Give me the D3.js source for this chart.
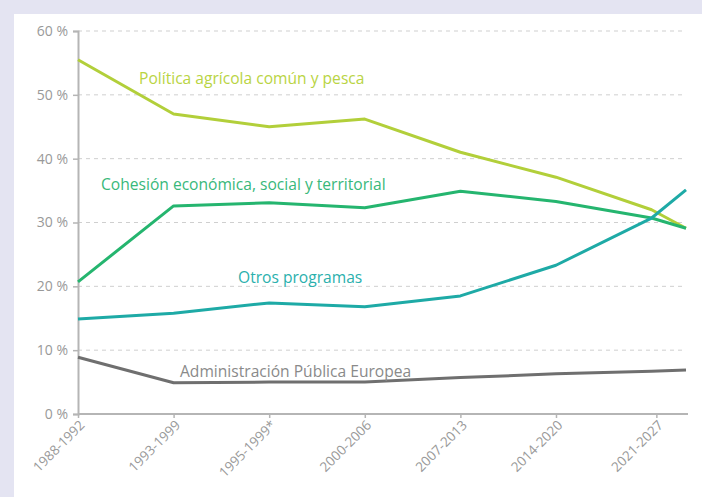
<!DOCTYPE html>
<html><head><meta charset="utf-8">
<script src="https://cdn.jsdelivr.net/npm/d3@7"></script>
<style>
html,body{margin:0;padding:0;background:#e4e4f2;}
svg{display:block;}
text{font-family:"Open Sans",sans-serif;}
</style></head>
<body><svg id="c" width="702" height="497"></svg>
<script>
// categories (periods) and their position along the time axis
const periods = ["1988-1992","1993-1999","1995-1999*","2000-2006","2007-2013","2014-2020","2021-2027",""];
const periodPos = [0,1,2,3,4,5,6,6.36];
const yTicks = [0,10,20,30,40,50,60];

const agricola = [55.5,47.0,45.0,46.2,41.0,37.1,32.0,29.1];
const cohesion = [20.7,32.6,33.1,32.3,34.9,33.3,30.7,29.1];
const otros = [14.9,15.8,17.4,16.8,18.5,23.3,30.7,35.1];
const admin = [8.9,4.9,5.0,5.0,5.7,6.3,6.7,6.9];

const seriesNames = ["Política agrícola común y pesca","Cohesión económica, social y territorial","Otros programas","Administración Pública Europea"];
const seriesColors = ["#b2cf3a","#25b56f","#1eaaa6","#6f6f6f"];
const labelColors = ["#b9d443","#38b87a","#2ab0ad","#8a8a8a"];

const svg = d3.select("#c");
svg.append("rect").attr("x",14).attr("y",14).attr("width",688).attr("height",483).attr("fill","#ffffff");

const x = d3.scaleLinear().domain([0,6.36]).range([78,686]);
const y = d3.scaleLinear().domain([0,60]).range([414,31]);

// gridlines
svg.append("g").selectAll("line").data(yTicks.filter(d=>d>0)).join("line")
  .attr("x1",x(0)).attr("x2",x(6.36)).attr("y1",d=>y(d)).attr("y2",d=>y(d))
  .attr("stroke","#cfcfcf").attr("stroke-width",1).attr("stroke-dasharray","4,4");

// y axis
const yAxis = svg.append("g").attr("transform",`translate(${x(0)},0)`)
  .call(d3.axisLeft(y).tickValues(yTicks).tickFormat(d=>d+" %").tickSize(5).tickPadding(5));
yAxis.select(".domain").attr("stroke","#b5b5b5").attr("stroke-width",2);
yAxis.selectAll(".tick line").attr("stroke","#b5b5b5").attr("stroke-width",1.5);
yAxis.selectAll(".tick text").attr("fill","#999999").style("font-size","14px").style("font-family","'Open Sans',sans-serif");

// x axis
const xAxis = svg.append("g").attr("transform",`translate(0,${y(0)})`)
  .call(d3.axisBottom(x).tickValues([0,1,2,3,4,5,6.05]).tickFormat((d,i)=>periods[i]).tickSize(4).tickSizeOuter(0));
xAxis.select(".domain").attr("stroke","#b5b5b5").attr("stroke-width",2)
  .attr("d",`M${x(0)},0H${x(6.36)+2}`);
xAxis.selectAll(".tick line").attr("stroke","#b5b5b5").attr("stroke-width",1.5);
xAxis.selectAll(".tick text").attr("fill","#999999").style("font-size","13.5px").style("font-family","'Open Sans',sans-serif")
  .attr("text-anchor","end").attr("dy",0).attr("y",0)
  .attr("transform","translate(7,12) rotate(-45)");

// lines
const allSeries = [agricola,cohesion,otros,admin];
const line = d3.line().x((d,i)=>x(periodPos[i])).y(d=>y(d));
svg.append("g").selectAll("path").data(allSeries).join("path")
  .attr("d",line).attr("fill","none")
  .attr("stroke",(d,i)=>seriesColors[i]).attr("stroke-width",3)
  .attr("stroke-linejoin","round");

// labels
const labelPos = [[139,84],[101,190],[238,283],[180,377]];
svg.append("g").selectAll("text").data(seriesNames).join("text")
  .attr("x",(d,i)=>labelPos[i][0]).attr("y",(d,i)=>labelPos[i][1])
  .attr("fill",(d,i)=>labelColors[i]).style("font-size","15.6px")
  .text(d=>d);
</script></body></html>
